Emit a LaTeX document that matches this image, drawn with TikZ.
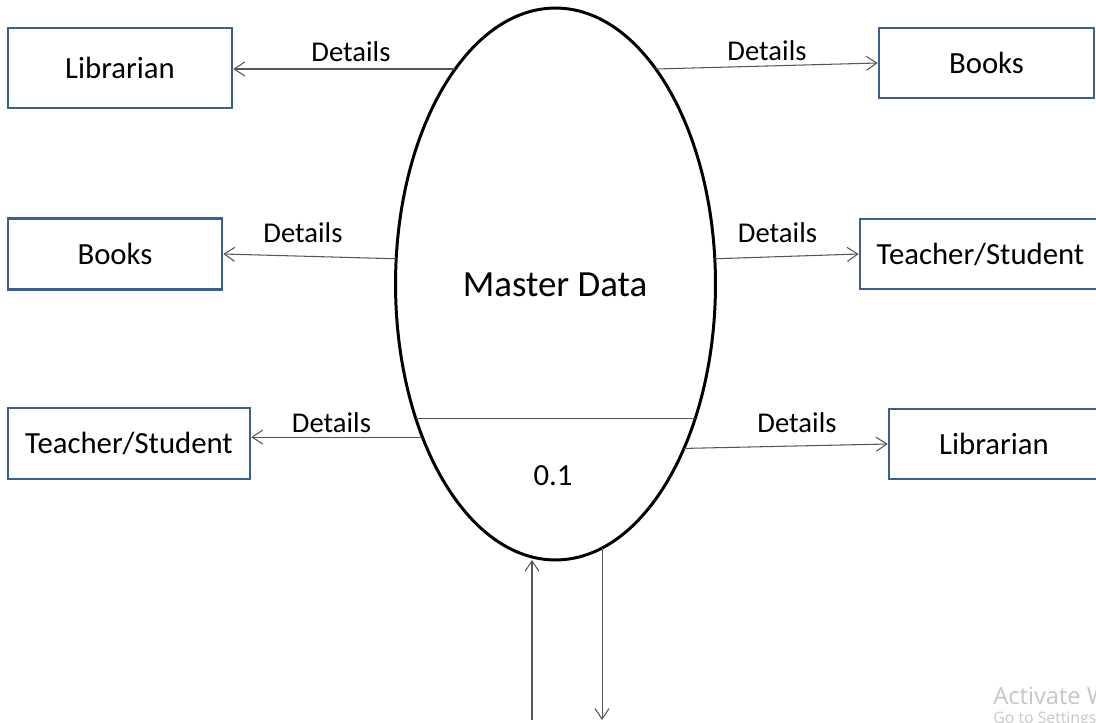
\documentclass[tikz,border=0pt]{standalone}
\usepackage{fontspec}
\setmainfont{Carlito}
\newfontfamily\wmfont{Open Sans}
\usetikzlibrary{shapes.geometric,arrows.meta}
\definecolor{boxblue}{RGB}{58,96,146}
\definecolor{flowgray}{RGB}{85,85,85}
\tikzset{
  entity/.style={draw=boxblue, line width=1.5pt, minimum height=1.42cm, inner sep=0pt, font=\fontsize{17.5}{20}\selectfont},
  flow/.style={draw=flowgray, line width=0.6pt, ->},
  lbl/.style={anchor=base, inner sep=0pt, font=\fontsize{16.3}{19}\selectfont},
  >={Straight Barb[length=6pt,width=8pt]}
}

\begin{document}
\begin{tikzpicture}[x=0.02cm,y=-0.02cm]
            \useasboundingbox (0,0) rectangle (1096,723);

            % Process
            \node[draw, ellipse, line width=1.7pt, minimum width=6.4cm, minimum height=11.04cm, inner sep=0pt, outer sep=0pt] (proc) at (555.5,284) {};
            \node[font=\fontsize{21}{25}\selectfont] (title) at (555,285) {Master Data};
            \node[font=\fontsize{17.5}{20}\selectfont] (num) at (553,476) {0.1};
            \draw[draw=flowgray, line width=0.7pt] (proc.224) -- (proc.316);

            % Left side
            \node[entity, minimum width=4.48cm, minimum height=1.6cm] (libL) at (120,68) {Librarian};
            \node[entity, minimum width=4.28cm] (booksL) at (115,254) {Books};
            \node[entity, minimum width=4.84cm] (usersL) at (129,443.5) {Teacher/Student};

            % Right side
            \node[entity, minimum width=4.3cm, minimum height=1.4cm] (booksR) at (986.5,63) {Books};
            \node[entity, minimum width=4.82cm, minimum height=1.4cm] (usersR) at (980.5,254) {Teacher/Student};
            \node[entity, minimum width=4.2cm, minimum height=1.4cm] (libR) at (994,444) {Librarian};

            % Data flows
            \draw[flow] (proc.115) -- (proc.115 -| libL.east);
            \draw[flow] (proc.65) -- (booksR.west);
            \draw[flow] (proc.171) -- (booksL.east);
            \draw[flow] (proc.9) -- (usersR.west);
            \draw[flow] (proc.229) -- (proc.229 -| usersL.east);
            \draw[flow] (proc.308) -- (libR.west);

            % Flow labels
            \node[lbl] (dL1) at (351,62) {Details};
            \node[lbl] (dR1) at (767,61) {Details};
            \node[lbl] (dL2) at (303,242) {Details};
            \node[lbl] (dR2) at (777.5,242) {Details};
            \node[lbl] (dL3) at (331.5,432) {Details};
            \node[lbl] (dR3) at (797,432) {Details};

            % In and out
            \coordinate (inA) at (532,720);
            \coordinate (outA) at (600,720);
            \draw[flow] (inA) -- (inA |- proc.south);
            \draw[flow] (proc.280) -- (proc.280 |- outA);

            % Watermark
            \node[anchor=west, inner sep=0pt, text=gray!45, font=\wmfont\fontsize{13.5}{16}\selectfont] (wm1) at (993,696) {Activate Windows};
            \node[anchor=west, inner sep=0pt, text=gray!45, font=\wmfont\fontsize{9}{11}\selectfont] (wm2) at (993,719) {Go to Settings to activate Windows.};
\end{tikzpicture}
\end{document}
